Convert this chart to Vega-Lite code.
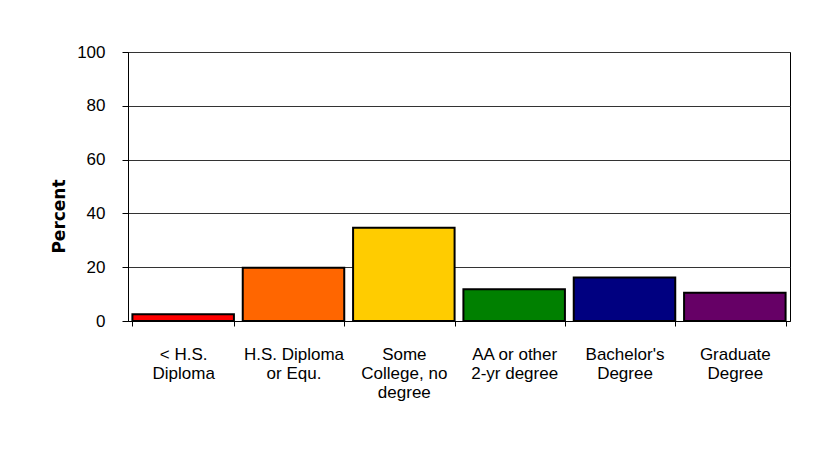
{
  "$schema": "https://vega.github.io/schema/vega-lite/v6.json",
  "width": 662,
  "height": 269,
  "autosize": "none",
  "padding": {"left": 128, "top": 52, "right": 25, "bottom": 147},
  "background": "white",
  "config": {
    "font": "Liberation Sans",
    "view": {"stroke": "black", "strokeWidth": 1}
  },
  "data": {
    "values": [
      {"level": "< H.S.\nDiploma", "percent": 2.5, "color": "#FF0000"},
      {"level": "H.S. Diploma\nor Equ.", "percent": 19.8, "color": "#FF6600"},
      {"level": "Some\nCollege, no\ndegree", "percent": 34.7, "color": "#FFCC00"},
      {"level": "AA or other\n2-yr degree", "percent": 11.8, "color": "#008000"},
      {"level": "Bachelor's\nDegree", "percent": 16.2, "color": "#000080"},
      {"level": "Graduate\nDegree", "percent": 10.5, "color": "#660066"}
    ]
  },
  "mark": {"type": "bar", "stroke": "black", "strokeWidth": 2},
  "encoding": {
    "x": {
      "field": "level",
      "type": "nominal",
      "sort": null,
      "scale": {"paddingInner": 0.08, "paddingOuter": 0.04},
      "axis": {
        "title": null,
        "labelAngle": 0,
        "labelExpr": "split(datum.label, '\\n')",
        "labelFont": "Liberation Sans",
        "labelFontSize": 17,
        "labelColor": "black",
        "labelLineHeight": 19,
        "labelBaseline": "top",
        "labelPadding": 20,
        "tickBand": "extent",
        "tickSize": 5,
        "tickColor": "black",
        "domainColor": "black"
      }
    },
    "y": {
      "field": "percent",
      "type": "quantitative",
      "scale": {"domain": [0, 100], "nice": false},
      "axis": {
        "title": "Percent",
        "titleFont": "DejaVu Sans",
        "titleFontSize": 17,
        "titleFontWeight": "bold",
        "titleColor": "black",
        "titlePadding": 8,
        "titleY": 164,
        "values": [0, 20, 40, 60, 80, 100],
        "labelFont": "Liberation Sans",
        "labelFontSize": 17,
        "labelColor": "black",
        "labelPadding": 17,
        "tickSize": 6,
        "tickColor": "black",
        "domainColor": "black",
        "grid": true,
        "gridColor": "#333333",
        "gridWidth": 1
      }
    },
    "color": {"field": "color", "type": "nominal", "scale": null, "legend": null}
  }
}
